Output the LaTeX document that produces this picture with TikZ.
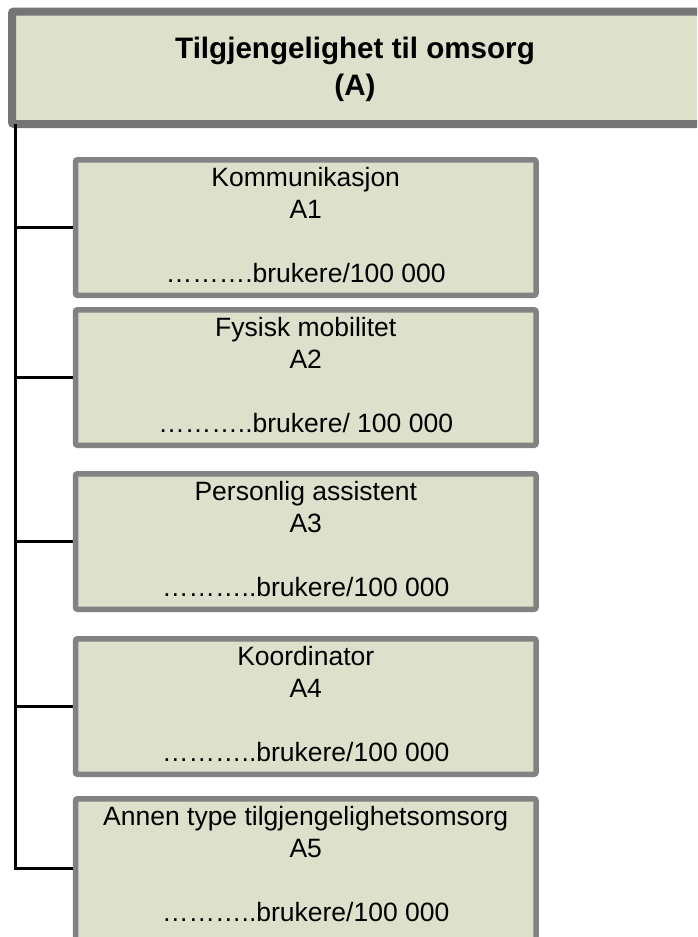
\documentclass[tikz,border=0pt]{standalone}
\usepackage{fontspec}
\setmainfont{Liberation Sans}
\definecolor{boxfill}{HTML}{DDE0CB}
\definecolor{topborder}{HTML}{757575}
\definecolor{childborder}{HTML}{828282}
\tikzset{
  topbox/.style={draw=topborder, fill=boxfill, line width=8pt, rectangle, rounded corners=2pt,
    minimum width=708pt, minimum height=112.5pt, inner sep=0pt, outer sep=0pt},
  childbox/.style={draw=childborder, fill=boxfill, line width=5.5pt, rectangle, rounded corners=2pt,
    minimum width=460.5pt, minimum height=135.5pt, inner sep=0pt, outer sep=2.75pt},
  titletext/.style={anchor=north, align=center, inner sep=0pt,
    font=\fontsize{29.6}{37}\selectfont\bfseries},
  childtext/.style={anchor=north, align=center, inner sep=0pt,
    font=\fontsize{26.5}{32}\selectfont},
  conn/.style={draw=black, line width=3pt}
}
\begin{document}
\begin{tikzpicture}[x=1pt, y=-1pt]
\useasboundingbox (0,0) rectangle (697,937);
\clip (0,0) rectangle (697,937);
% top box
\node[topbox] (top) at (366,67.75) {};
\node[titletext] (toptext) at (355,36.5) {Tilgjengelighet til omsorg\\(A)};
% child boxes
\node[childbox] (b1) at (305.75,227.5) {};
\node[childbox] (b2) at (305.75,377.5) {};
\node[childbox] (b3) at (305.75,541.5) {};
\node[childbox] (b4) at (305.75,706.5) {};
\node[childbox, minimum height=150pt] (b5) at (305.75,873.75) {};
% connectors
\coordinate (trunk) at (15,124);
\draw[conn] (trunk) |- ([yshift=5.75pt]b5.west);
\draw[conn] (trunk |- b1.west) -- (b1.west);
\draw[conn] (trunk |- b2.west) -- (b2.west);
\draw[conn] (trunk |- b3.west) -- (b3.west);
\draw[conn] (trunk |- b4.west) -- (b4.west);
% texts
\node[childtext] (t1) at (305.75,167.5) {Kommunikasjon\\A1\\\mbox{}\\……….brukere/100 000};
\node[childtext] (t2) at (305.75,317.5) {Fysisk mobilitet\\A2\\\mbox{}\\………..brukere/ 100 000};
\node[childtext] (t3) at (305.75,481.5) {Personlig assistent\\A3\\\mbox{}\\………..brukere/100 000};
\node[childtext] (t4) at (305.75,646.5) {Koordinator\\A4\\\mbox{}\\………..brukere/100 000};
\node[childtext] (t5) at (305.75,806.5) {Annen type tilgjengelighetsomsorg\\A5\\\mbox{}\\………..brukere/100 000};
\end{tikzpicture}
\end{document}
